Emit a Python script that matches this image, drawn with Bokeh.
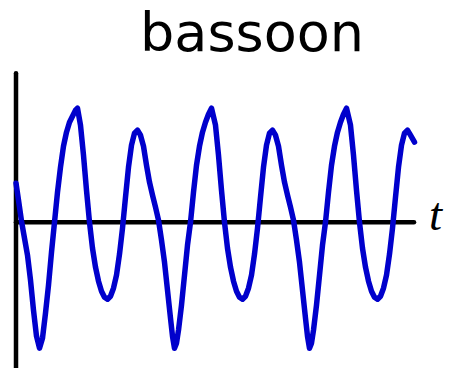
from bokeh.plotting import figure
from bokeh.models import Label, Range1d
from bokeh.embed import file_html
from bokeh.resources import INLINE

# ---- data (time in arbitrary units, amplitude in arbitrary units) ----
title_text = "bassoon"
axis_label = "t"

# lead-in: from t=0 to the first big peak
t_start = [0.00, 0.25, 0.55, 0.85, 1.15, 1.45, 1.75, 2.05, 2.35, 2.65, 2.95, 3.25,
           3.55, 3.85, 4.15, 4.45, 4.75, 5.05, 5.35, 5.65, 5.95, 6.15]
a_start = [0.39, 0.22, 0.01, -0.16, -0.33, -0.58, -0.88, -1.14, -1.26, -1.16, -0.91, -0.63,
           -0.30, 0.00, 0.30, 0.55, 0.76, 0.90, 1.00, 1.06, 1.12, 1.14]

# first full period (peak to peak)
t_p1 = [6.45, 6.75, 7.05, 7.35, 7.65, 7.95, 8.25, 8.55, 8.85, 9.15, 9.45, 9.75,
        10.05, 10.35, 10.65, 10.95, 11.25, 11.55, 11.85, 12.15, 12.45, 12.75, 13.05,
        13.35, 13.65, 13.95, 14.25, 14.55, 14.85, 15.15, 15.45, 15.65, 15.85, 16.05,
        16.25, 16.55, 16.85, 17.15, 17.45, 17.75, 18.05, 18.35, 18.65, 18.95, 19.25, 19.55]
a_p1 = [0.97, 0.67, 0.32, 0.00, -0.26, -0.45, -0.59, -0.69, -0.75, -0.77, -0.74, -0.66,
        -0.53, -0.32, -0.06, 0.25, 0.55, 0.77, 0.89, 0.92, 0.87, 0.76, 0.57,
        0.40, 0.27, 0.15, 0.02, -0.18, -0.40, -0.68, -0.96, -1.14, -1.26, -1.21,
        -1.08, -0.83, -0.53, -0.23, 0.00, 0.30, 0.57, 0.76, 0.90, 1.00, 1.08, 1.14]

# second full period
t_p2 = [19.95, 20.25, 20.55, 20.85, 21.15, 21.45, 21.75, 22.05, 22.35, 22.65, 22.95, 23.25,
        23.55, 23.85, 24.15, 24.45, 24.75, 25.05, 25.35, 25.65, 25.95, 26.25, 26.55,
        26.85, 27.15, 27.45, 27.75, 28.05, 28.35, 28.65, 28.95, 29.15, 29.35, 29.55,
        29.75, 30.05, 30.35, 30.65, 30.95, 31.25, 31.55, 31.85, 32.15, 32.45, 32.75, 33.05]
a_p2 = [0.97, 0.67, 0.32, 0.00, -0.26, -0.45, -0.59, -0.69, -0.75, -0.77, -0.74, -0.66,
        -0.53, -0.32, -0.06, 0.25, 0.55, 0.77, 0.89, 0.92, 0.87, 0.76, 0.57,
        0.40, 0.27, 0.15, 0.02, -0.18, -0.40, -0.68, -0.96, -1.14, -1.26, -1.21,
        -1.08, -0.83, -0.53, -0.23, 0.00, 0.30, 0.57, 0.76, 0.90, 1.00, 1.08, 1.14]

# final partial period
t_end = [33.45, 33.75, 34.05, 34.35, 34.65, 34.95, 35.25, 35.55, 35.85, 36.15, 36.45,
         36.75, 37.05, 37.35, 37.65, 37.95, 38.25, 38.55, 38.85, 39.15, 39.45, 39.85]
a_end = [0.97, 0.67, 0.32, 0.00, -0.26, -0.45, -0.59, -0.69, -0.75, -0.77, -0.74,
         -0.66, -0.53, -0.32, -0.06, 0.25, 0.55, 0.77, 0.89, 0.92, 0.87, 0.80]

t = t_start + t_p1 + t_p2 + t_end
a = a_start + a_p1 + a_p2 + a_end

# ---- figure ----
W, H = 450, 368
p = figure(width=W, height=H, output_backend="svg", toolbar_location=None,
           x_range=Range1d(-1.55, (W - 15.5) / 10.0),
           y_range=Range1d(2.217 - H / 100.0, 2.217),
           min_border=0, min_border_left=0, min_border_right=0,
           min_border_top=0, min_border_bottom=0)
p.axis.visible = False
p.grid.visible = False
p.outline_line_color = None
p.background_fill_color = "white"
p.border_fill_color = "white"

# axes drawn as lines through the data scales
t_axis_end = 39.8
a_axis_top = 1.49
a_axis_bottom = -1.7
p.line([0, t_axis_end], [0, 0], line_color="black", line_width=4.5, line_cap="round")
p.line([0, 0], [a_axis_bottom, a_axis_top], line_color="black", line_width=4.5, line_cap="round")

# waveform
p.line(t, a, line_color="#0000CC", line_width=5.5, line_join="round", line_cap="round")

# axis label and title
p.add_layout(Label(x=41.3, y=0.08, text=axis_label, text_font="Liberation Serif",
                   text_font_style="italic", text_font_size="47px", text_color="black",
                   text_baseline="alphabetic", text_align="left"))
p.add_layout(Label(x=23.6, y=1.90, text=title_text, text_font="DejaVu Sans",
                   text_font_size="54px", text_color="black",
                   text_baseline="alphabetic", text_align="center"))

open("out.html", "w").write(file_html(p, INLINE))
